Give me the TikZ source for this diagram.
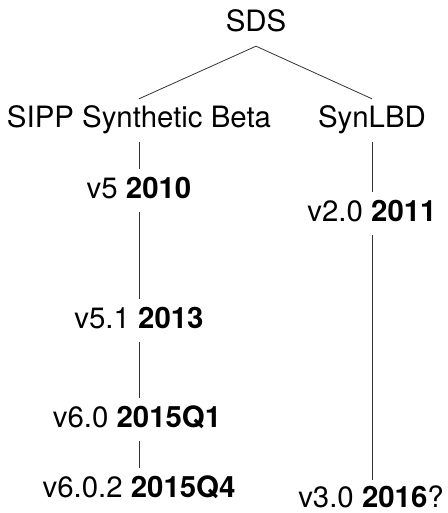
\documentclass[tikz,border=0pt]{standalone}
\usepackage{fontspec}
\setmainfont{TeX Gyre Heros}
\begin{document}
\begin{tikzpicture}[x=1pt,y=1pt,
  lbl/.style={anchor=base, font=\fontsize{29.4}{33}\selectfont, text height=21pt, text depth=6pt, inner xsep=2pt, inner ysep=8pt},
  lastlbl/.style={lbl, text height=26pt, text depth=0pt, inner ysep=1pt, inner xsep=0pt},
  link/.style={draw=black!80, line width=0.8pt}]
\useasboundingbox[fill=white] (0,0) rectangle (447,-513);
\node[lbl] (sds) at (256,-32) {SDS};
\node[lbl] (sipp) at (139,-128) {SIPP Synthetic Beta};
\node[lbl] (syn) at (372,-128) {SynLBD};
\node[lbl] (v5) at (139,-198) {v5 \textbf{2010}};
\node[lbl] (v51) at (139,-328) {v5.1 \textbf{2013}};
\node[lbl] (v60) at (137,-427) {v6.0 \textbf{2015Q1}};
\node[lbl] (v602) at (139,-497) {v6.0.2 \textbf{2015Q4}};
\node[lbl] (v20) at (372,-221) {v2.0 \textbf{2011}};
\node[lastlbl] (v30) at (371,-507) {v3.0 \textbf{2016}?};
\draw[link] (sds.south) -- (sipp.north);
\draw[link] (sds.south) -- (syn.north);
\draw[link] (sipp.south) -- (v5.north);
\draw[link] (v5.south) -- (v51.north);
\draw[link] (v51.south) -- (v60.north -| v51.south);
\draw[link] (v60.south -| v51.south) -- (v602.north);
\draw[link] (syn.south) -- (v20.north);
\draw[link] (v20.south) -- (v30.north -| v20.south);
\end{tikzpicture}
\end{document}
